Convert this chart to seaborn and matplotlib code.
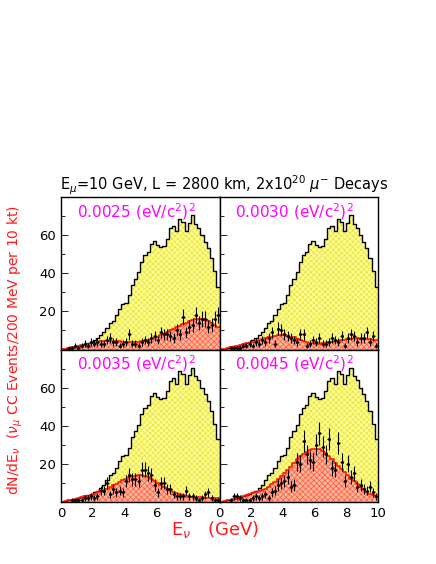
import numpy as np
import pandas as pd
import matplotlib
matplotlib.use("Agg")
import matplotlib.pyplot as plt
import seaborn as sns
from matplotlib.ticker import MultipleLocator

sns.set_style("white")
plt.rcParams['font.family'] = ['DejaVu Sans']
plt.rcParams['hatch.linewidth'] = 0.5
plt.rcParams['mathtext.fontset'] = 'dejavusans'

# ---- data (200 MeV bins, 0-10 GeV) ----
bin_edges = [round(0.2 * i, 2) for i in range(51)]
bin_centers = [round(0.2 * i + 0.1, 2) for i in range(50)]

unosc = [0.2, 0.5, 0.8, 1.2, 1.6, 2.0, 2.5, 3.0, 3.5, 4.0,
         5.0, 6.0, 7.5, 9.0, 11.5, 14.0, 15.0, 18.0, 21.5, 24.0,
         24.5, 28.5, 34.0, 37.0, 40.5, 46.0, 49.5, 51.0, 55.5, 57.0,
         55.0, 54.0, 54.5, 58.0, 63.5, 65.0, 62.0, 68.5, 67.0, 62.0,
         66.5, 70.5, 66.0, 64.0, 60.0, 56.5, 53.0, 48.0, 41.0, 33.0]

labels = ["0.0025", "0.0030", "0.0035", "0.0045"]

osc_0025 = [0.2, 0.5, 0.8, 1.2, 1.5, 1.8, 2.2, 2.6, 3.0, 3.3,
            3.6, 3.9, 4.2, 4.4, 4.5, 4.6, 4.5, 4.4, 4.2, 4.0,
            3.9, 3.8, 3.8, 3.9, 4.0, 4.3, 4.6, 5.0, 5.6, 6.2,
            6.8, 7.5, 8.3, 9.0, 10.0, 10.8, 11.6, 12.4, 13.2, 14.0,
            14.8, 15.5, 15.8, 16.0, 15.8, 15.4, 14.8, 14.0, 13.0, 12.0]
osc_0030 = [0.2, 0.5, 0.8, 1.1, 1.5, 1.9, 2.3, 2.8, 3.2, 3.6,
            4.0, 4.5, 5.0, 5.4, 5.8, 6.3, 6.8, 7.2, 7.4, 7.5,
            7.4, 7.2, 6.8, 6.3, 5.7, 5.0, 4.4, 3.9, 3.5, 3.2,
            3.1, 3.1, 3.2, 3.4, 3.7, 4.0, 4.3, 4.6, 4.9, 5.2,
            5.5, 5.7, 5.8, 5.8, 5.7, 5.6, 5.5, 5.3, 5.1, 4.9]
osc_0035 = [0.2, 0.5, 0.8, 1.2, 1.6, 2.0, 2.4, 2.9, 3.4, 3.9,
            4.4, 5.0, 5.6, 6.3, 7.0, 7.8, 8.7, 9.6, 10.5, 11.3,
            12.1, 12.9, 13.5, 13.9, 14.1, 14.0, 13.6, 13.0, 12.2, 11.2,
            10.1, 9.0, 8.0, 7.0, 6.1, 5.3, 4.6, 4.0, 3.5, 3.1,
            2.8, 2.6, 2.5, 2.4, 2.4, 2.3, 2.3, 2.2, 2.1, 2.0]
osc_0045 = [0.2, 0.5, 0.9, 1.3, 1.7, 2.1, 2.6, 3.0, 3.5, 4.0,
            4.5, 5.0, 5.6, 6.3, 7.0, 8.0, 9.2, 10.6, 12.2, 13.6,
            15.2, 16.8, 18.5, 20.5, 22.5, 24.0, 25.2, 26.3, 27.2, 27.8,
            28.0, 27.6, 26.8, 25.6, 24.0, 22.3, 20.6, 19.0, 17.4, 15.8,
            14.0, 12.3, 10.8, 9.3, 7.9, 6.6, 5.4, 4.4, 3.5, 2.8]

data_0025 = [0, 0, 1, 1, 2, 1, 2, 3, 2, 4,
             3, 4, 3, 3, 5, 6, 4, 4, 2, 3,
             4, 8, 3, 3, 2, 4, 5, 4, 6, 7,
             5, 9, 8, 8, 7, 6, 10, 8, 17, 9,
             12, 13, 18, 14, 16, 16, 12, 13, 16, 18]
data_0030 = [0, 0, 0, 1, 1, 1, 1, 2, 2, 3,
             2, 4, 3, 5, 4, 6, 9, 3, 11, 10,
             8, 7, 6, 5, 4, 8, 8, 2, 3, 5,
             4, 6, 3, 3, 4, 6, 5, 4, 7, 2,
             6, 8, 7, 4, 6, 6, 9, 4, 7, 2]
data_0035 = [0, 0, 0, 1, 1, 1, 1, 2, 2, 3,
             2, 3, 6, 6, 10, 4, 7, 5, 6, 5,
             11, 14, 12, 12, 11, 17, 17, 15, 14, 9,
             5, 10, 10, 7, 7, 4, 3, 3, 3, 6,
             3, 3, 2, 1, 2, 4, 5, 2, 1, 1]
data_0045 = [0, 0, 0, 1, 3, 3, 2, 1, 1, 1,
             2, 3, 2, 3, 4, 2, 5, 6, 9, 10,
             11, 13, 8, 9, 21, 20, 32, 25, 22, 21,
             30, 36, 29, 25, 33, 18, 17, 31, 21, 11,
             20, 13, 15, 8, 9, 7, 6, 8, 5, 3]

osc_sets = [osc_0025, osc_0030, osc_0035, osc_0045]
data_sets = [data_0025, data_0030, data_0035, data_0045]

title = r"E$_{\mu}$=10 GeV, L = 2800 km, 2x10$^{20}$ $\mu^{-}$ Decays"
xlabel = r"E$_{\nu}$   (GeV)"
ylabel = r"dN/dE$_{\nu}$  ($\nu_{\mu}$ CC Events/200 MeV per 10 kt)"

# ---- figure ----
W, H = 436, 564
fig = plt.figure(figsize=(W / 100, H / 100), dpi=100)

x0, x1 = 61, 378
y0, y1 = 197, 502
pw = (x1 - x0) / 2
ph = (y1 - y0) / 2
axes = []
for r in range(2):
    for c in range(2):
        left = (x0 + c * pw) / W
        bottom = (H - (y0 + (r + 1) * ph)) / H
        axes.append(fig.add_axes([left, bottom, pw / W, ph / H]))

yel_face = '#ffff90'
yel_hatch = '#e6e040'
red_face = '#ffb49c'
red_hatch = '#ff5a3c'

for k, ax in enumerate(axes):
    df = pd.DataFrame({"E": bin_centers, "unosc": unosc, "osc": osc_sets[k]})
    # yellow (unoscillated) filled hatched
    sns.histplot(data=df, x="E", weights="unosc", bins=bin_edges, element="step",
                 fill=True, facecolor=yel_face, edgecolor=yel_hatch, linewidth=0,
                 alpha=1, ax=ax)
    ax.collections[-1].set_hatch('xxxxxx')
    sns.histplot(data=df, x="E", weights="unosc", bins=bin_edges, element="step",
                 fill=False, color='black', linewidth=1.0, ax=ax)
    # red (oscillated) filled hatched
    sns.histplot(data=df, x="E", weights="osc", bins=bin_edges, element="step",
                 fill=True, facecolor=red_face, edgecolor=red_hatch, linewidth=0,
                 alpha=1, ax=ax)
    ax.collections[-1].set_hatch('xxxxxx')
    sns.histplot(data=df, x="E", weights="osc", bins=bin_edges, element="step",
                 fill=False, color='#ff1a00', linewidth=1.2, ax=ax)
    # data points
    d = np.array(data_sets[k], dtype=float)
    xc = np.array(bin_centers)
    m = d > 0
    ax.errorbar(xc[m], d[m], xerr=0.1, yerr=np.sqrt(d[m]), fmt='o',
                ms=1.2, color='black', ecolor='black', elinewidth=0.8,
                capsize=0, zorder=5)

    ax.set_xlim(0, 10)
    ax.set_ylim(0, 80)
    ax.set_xlabel("")
    ax.set_ylabel("")
    ax.xaxis.set_major_locator(MultipleLocator(2))
    ax.xaxis.set_minor_locator(MultipleLocator(1))
    ax.yaxis.set_major_locator(MultipleLocator(20))
    ax.yaxis.set_minor_locator(MultipleLocator(10))
    ax.tick_params(which='both', direction='in', top=False, right=False,
                   bottom=True, left=True, labelsize=9.5, colors='black')
    ax.tick_params(which='major', length=5, width=0.6)
    ax.tick_params(which='minor', length=3, width=0.6)
    for s in ax.spines.values():
        s.set_color('black')
        s.set_linewidth(1.0)
    r, c = divmod(k, 2)
    ax.set_yticks([20, 40, 60])
    if c == 1:
        ax.set_yticklabels([])
        ax.set_xticks([0, 2, 4, 6, 8, 10])
    else:
        ax.set_yticklabels(['20', '40', '60'])
        ax.set_xticks([0, 2, 4, 6, 8])
    if r == 0:
        ax.set_xticklabels([])
    ax.text(0.1, 0.905, labels[k] + r" (eV/c$^{2}$)$^{2}$", transform=ax.transAxes,
            color='#ff00ff', fontsize=11, ha='left', va='center')

fig.text(0.514, 1 - 185 / H, title, ha='center', va='center', fontsize=10.5, color='black')
fig.text(0.493, 1 - 530 / H, xlabel, ha='center', va='center', fontsize=13, color='#ff1a1a')
fig.text(0.035, 1 - 350 / H, ylabel, ha='center', va='center', rotation=90,
         fontsize=10, color='#ff1a1a')

fig.savefig("out.png", dpi=100)
